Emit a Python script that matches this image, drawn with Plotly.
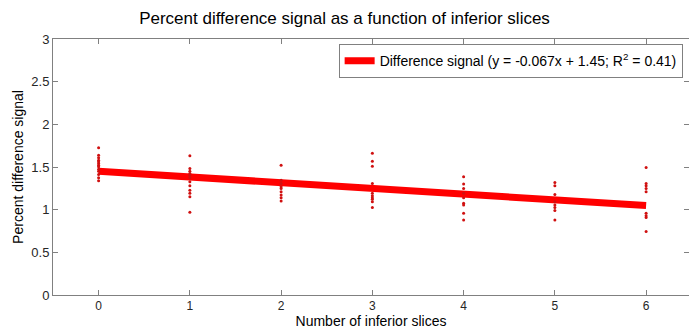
import plotly.graph_objects as go

# Data
x0 = [1.727, 1.638, 1.607, 1.579, 1.561, 1.541, 1.521, 1.502, 1.474, 1.451, 1.412, 1.374, 1.339]
x1 = [1.631, 1.482, 1.451, 1.424, 1.404, 1.374, 1.327, 1.281, 1.229, 1.191, 1.152, 0.969]
x2 = [1.521, 1.346, 1.307, 1.269, 1.249, 1.210, 1.171, 1.140, 1.101]
x3 = [1.661, 1.568, 1.509, 1.307, 1.191, 1.164, 1.140, 1.121, 1.094, 1.024]
x4 = [1.386, 1.300, 1.249, 1.191, 1.140, 1.074, 1.054, 0.957, 0.879]
x5 = [1.319, 1.281, 1.179, 1.094, 1.054, 1.024, 0.989, 0.879]
x6 = [1.494, 1.307, 1.281, 1.249, 1.210, 0.957, 0.930, 0.907, 0.744]
groups = [x0, x1, x2, x3, x4, x5, x6]
slice_counts = [0, 1, 2, 3, 4, 5, 6]

fit_x = [0, 6]
fit_y = [1.45, 1.048]

x_ticks = [0, 1, 2, 3, 4, 5, 6]
y_ticks = [0, 0.5, 1, 1.5, 2, 2.5, 3]
y_tick_text = ["0", "0.5", "1", "1.5", "2", "2.5", "3"]

pts_x, pts_y = [], []
for n, vals in zip(slice_counts, groups):
    pts_x += [n] * len(vals)
    pts_y += vals

font_family = "Liberation Sans, Arial, sans-serif"

fig = go.Figure()
fig.add_trace(go.Scatter(
    x=fit_x, y=fit_y, mode="lines",
    line=dict(color="#ff0000", width=7),
    name="Difference signal (y = -0.067x + 1.45; R<sup>2</sup> = 0.41)",
    showlegend=True,
))
fig.add_trace(go.Scatter(
    x=pts_x, y=pts_y, mode="markers",
    marker=dict(color="#d01010", size=3),
    showlegend=False,
))

axis_common = dict(
    showline=True, linecolor="#808080", linewidth=1, mirror="allticks",
    ticks="inside", ticklen=5, tickcolor="#808080",
    showgrid=False, zeroline=False,
)

fig.update_layout(
    width=689, height=329,
    margin=dict(l=53, r=0, t=39, b=34),
    paper_bgcolor="white", plot_bgcolor="white",
    font=dict(family=font_family, color="black"),
    title=dict(
        text="Percent difference signal as a function of inferior slices",
        x=0.5, xanchor="center", y=(329 - 18) / 329, yanchor="middle",
        yref="container", font=dict(size=17, color="black"),
    ),
    xaxis=dict(
        range=[-0.5, 6.47], tickvals=x_ticks,
        tickfont=dict(size=12, color="#262626", family=font_family),
        title=dict(text="Number of inferior slices", font=dict(size=14), standoff=4),
        **axis_common,
    ),
    yaxis=dict(
        range=[0, 3], tickvals=y_ticks, ticktext=y_tick_text,
        tickfont=dict(size=13, color="#262626", family=font_family),
        title=dict(text="Percent difference signal", font=dict(size=14), standoff=4),
        **axis_common,
    ),
    legend=dict(
        x=0.99, xanchor="right", y=0.98, yanchor="top",
        bordercolor="#808080", borderwidth=1, bgcolor="white",
        font=dict(size=14, color="black"),
        tracegroupgap=0, itemwidth=30,
    ),
)

fig.write_html("out.html", config={"displayModeBar": False},
               post_script="document.body.style.margin='0';")
